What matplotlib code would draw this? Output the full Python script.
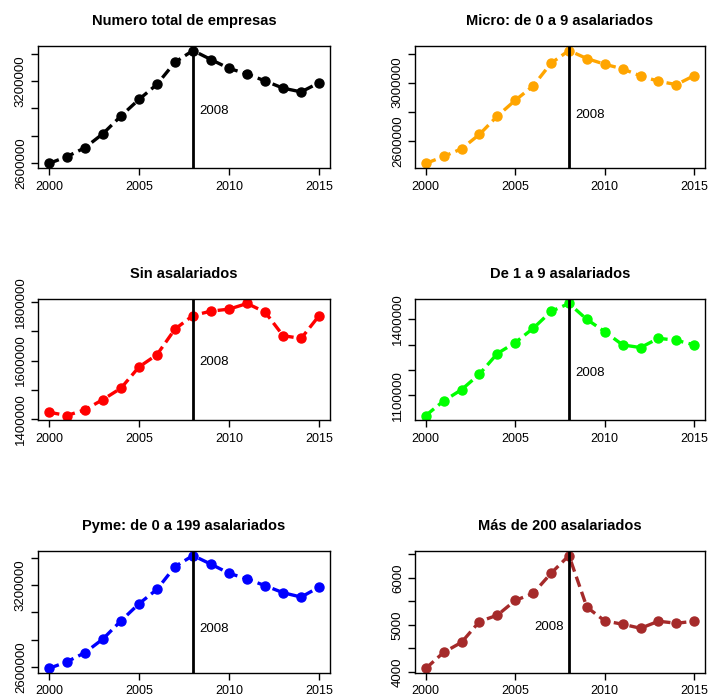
import matplotlib.pyplot as plt
import numpy as np

plt.rcParams['font.family'] = ['Liberation Sans', 'DejaVu Sans']

years = list(range(2000, 2016))

total = [2595392, 2645317, 2710400, 2813159, 2942583, 3064129, 3174393, 3336657,
         3422239, 3355830, 3291263, 3250576, 3199617, 3146570, 3119310, 3186878]
micro = [2443700, 2491900, 2544800, 2643700, 2770100, 2878200, 2977000, 3133400,
         3220700, 3165500, 3126400, 3094300, 3046000, 3009200, 2986200, 3048300]
sin_asal = [1422800, 1411400, 1430800, 1466100, 1504900, 1577800, 1620000, 1707800,
            1754374, 1769400, 1776200, 1795600, 1766000, 1685000, 1675900, 1754002]
de1a9 = [1020100, 1077700, 1122300, 1183800, 1265100, 1308300, 1364600, 1431400,
         1462900, 1400000, 1351500, 1299100, 1288700, 1325300, 1317500, 1299100]
pyme = [2590200, 2639300, 2705500, 2806100, 2938600, 3063800, 3169300, 3336200,
        3417100, 3353300, 3287100, 3245400, 3196300, 3144800, 3112900, 3186500]
grandes = [4071, 4414, 4628, 5071, 5207, 5521, 5671, 6100,
           6478, 5378, 5085, 5014, 4928, 5078, 5035, 5078]

titles = ["Numero total de empresas", "Micro: de 0 a 9 asalariados",
          "Sin asalariados", "De 1 a 9 asalariados",
          "Pyme: de 0 a 199 asalariados", "Más de 200 asalariados"]
series = [total, micro, sin_asal, de1a9, pyme, grandes]
colors = ["black", "orange", "red", "#00FF00", "blue", "brown"]

# y axis ticks and the ones that get a label
yticks = [np.arange(2600000, 3400001, 200000),
          np.arange(2600000, 3200001, 200000),
          np.arange(1400000, 1800001, 100000),
          np.arange(1100000, 1400001, 100000),
          np.arange(2600000, 3400001, 200000),
          np.arange(4000, 6501, 500)]
ylabeled = [[2600000, 3200000], [2600000, 3000000], [1400000, 1600000, 1800000],
            [1100000, 1400000], [2600000, 3200000], [4000, 5000, 6000]]

# height of the "2008" note in each panel, and which side of the line
note_y = [2980000, 2780000, 1594000, 1190000, 2882000, 4957]
note_side = ["right", "right", "right", "right", "right", "left"]

W, H = 709, 699
cols = [(38, 292), (415, 290)]
rows = [(46, 168), (299, 420), (551, 673)]

fig = plt.figure(figsize=(W / 100, H / 100), dpi=100)

for i in range(6):
    r, c = divmod(i, 2)
    left, width = cols[c]
    top, bottom = rows[r]
    ax = fig.add_axes([left / W, 1 - bottom / H, width / W, (bottom - top) / H])

    ax.plot(years, series[i], color=colors[i], linestyle=(0, (3.2, 1.6)), linewidth=2.4,
            marker='o', markersize=6.5)
    ax.axvline(2008, color='black', linewidth=2)
    ax.margins(x=0.04, y=0.04)

    if note_side[i] == "right":
        ax.annotate("2008", (2008, note_y[i]), xytext=(4.5, 0), textcoords='offset points',
                    ha='left', va='center', fontsize=9.5)
    else:
        ax.annotate("2008", (2008, note_y[i]), xytext=(-3.5, 0), textcoords='offset points',
                    ha='right', va='center', fontsize=9.5)

    ax.set_xticks([2000, 2005, 2010, 2015])
    ax.set_yticks(yticks[i])
    ax.set_yticklabels([str(v) if v in ylabeled[i] else "" for v in yticks[i]],
                       rotation=90, va='center')
    ax.tick_params(direction='out', length=5, width=1, labelsize=9.5, pad=4)
    ax.tick_params(axis='x', labelsize=9)
    ax.tick_params(axis='y', pad=3)
    for s in ax.spines.values():
        s.set_linewidth(1)

    ax.set_title(titles[i], fontsize=10.5, fontweight='bold', pad=15)

plt.savefig("out.png", dpi=100)
